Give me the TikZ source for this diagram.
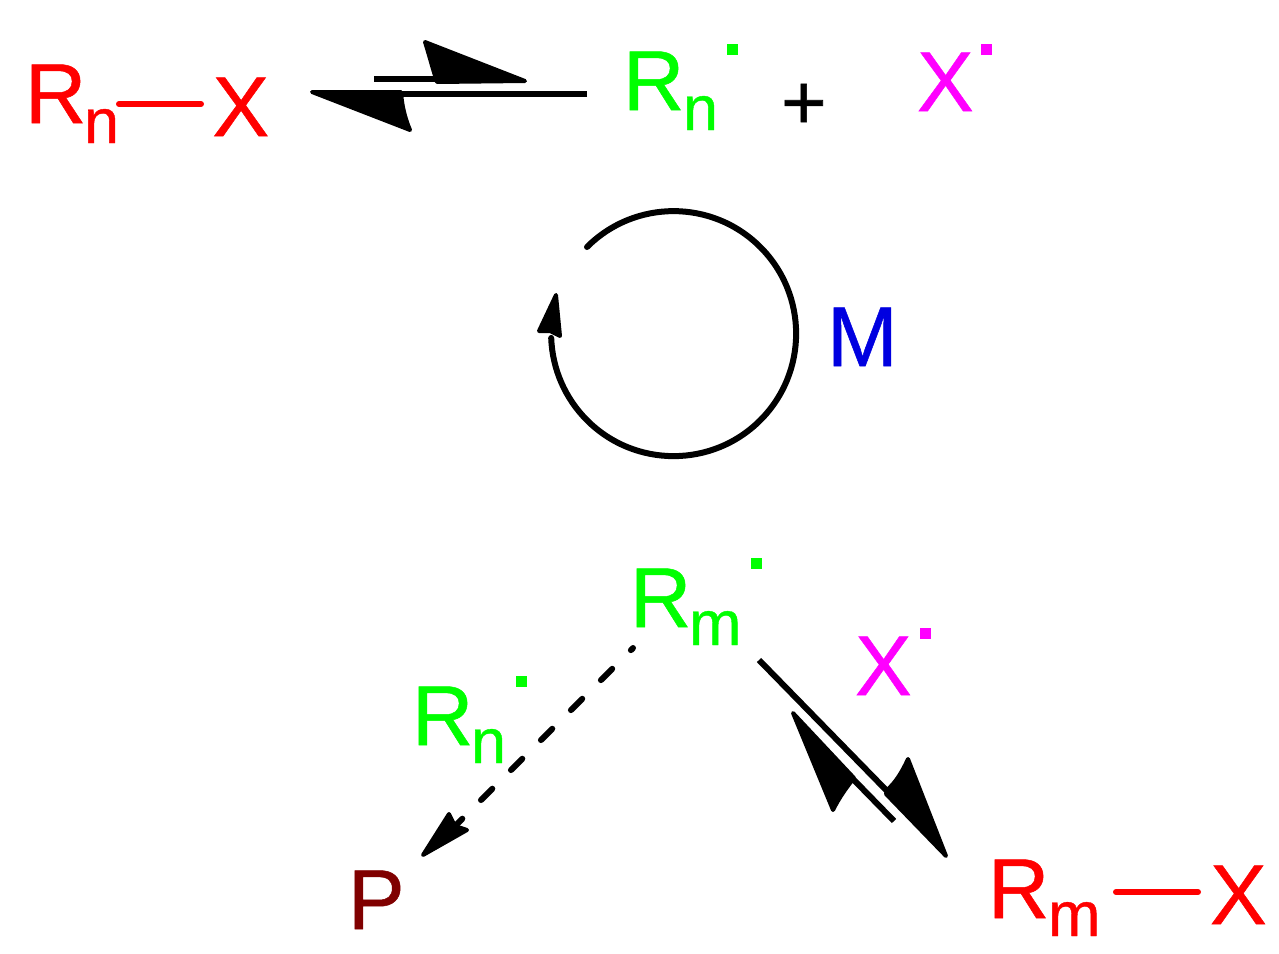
\documentclass[tikz,border=0pt]{standalone}
\usepackage{fontspec}
\setmainfont{Liberation Sans}
\definecolor{cred}{RGB}{255,0,0}
\definecolor{cgreen}{RGB}{0,255,0}
\definecolor{cpink}{RGB}{255,0,255}
\definecolor{cblue}{RGB}{0,0,224}
\definecolor{cbrown}{RGB}{128,0,0}
\tikzset{
  big/.style={inner sep=0pt,outer sep=0pt,anchor=base west,font=\fontsize{85}{85}\selectfont\addfontfeature{FakeBold=0.6}},
  small/.style={inner sep=0pt,outer sep=0pt,anchor=base west,font=\fontsize{63}{63}\selectfont\addfontfeature{FakeBold=0.6}},
  raddot/.style={inner sep=0pt,outer sep=0pt,anchor=north west,minimum size=10.5pt,rectangle},
  bond/.style={line width=6pt,line cap=round},
  harp/.style={line width=6pt},
  headfill/.style={fill=black,draw=black,line width=4pt,line join=round}
}
\begin{document}
\begin{tikzpicture}[x=1pt,y=-1pt]
\useasboundingbox (0,0) rectangle (1279,953);
% top left
\node[big,text=cred] (r1) at (25,123) {R};
\node[small,text=cred] (n1) at (84,143) {n};
\node[big,text=cred] (x1) at (212.5,136) {X};
\coordinate (b1a) at (119,104); \coordinate (b1b) at (201,104);
\draw[bond,cred] (b1a) -- (b1b);
% top right
\node[big,text=cgreen] (r2) at (623,110) {R};
\node[small,text=cgreen] (n2) at (683,130) {n};
\node[raddot,fill=cgreen] (d2) at (727,44) {};
\node[big,text=black,font=\fontsize{78}{78}\selectfont\addfontfeature{FakeBold=0.8}] (plus) at (781,129) {+};
\node[big,text=cpink] (x2) at (917,111) {X};
\node[raddot,fill=cpink] (d3) at (981,44) {};
% top arrows
\coordinate (h1a) at (374,79); \coordinate (h1b) at (437,79);
\coordinate (h2a) at (587,94); \coordinate (h2b) at (402,94);
\draw[harp] (h1a) -- (h1b);
\draw[harp] (h2a) -- (h2b);
\path[headfill] (525,81) -- (425,42) .. controls (430,58) and (433,70) .. (437,82) -- cycle;
\path[headfill] (312,92) -- (410,130) .. controls (405,118) and (402,106) .. (401,92) -- cycle;
% cycle
\coordinate (cc) at (673,334);
\node[big,text=cblue] (m) at (827,366) {M};
\draw[line width=6pt,line cap=round] (587,247) arc[start angle=135,end angle=-178,radius=122.5pt];
\path[headfill] (556,295) -- (539,331) -- (550,331) -- (560,336) -- cycle;
% lower centre
\node[big,text=cgreen] (r3) at (630,627) {R};
\node[small,text=cgreen] (m3) at (689,645) {m};
\node[raddot,fill=cgreen] (d4) at (751,558) {};
\node[big,text=cpink] (x3) at (855,695) {X};
\node[raddot,fill=cpink] (d5) at (920,628) {};
\node[big,text=cgreen] (r4) at (412,745) {R};
\node[small,text=cgreen] (n4) at (471,763) {n};
\node[raddot,fill=cgreen] (d6) at (516,676) {};
\node[big,text=cbrown] (p) at (348,929) {P};
% lower right
\node[big,text=cred] (r5) at (988,918) {R};
\node[small,text=cred] (m5) at (1048,936) {m};
\node[big,text=cred] (x5) at (1210,924) {X};
\coordinate (b5a) at (1116,892); \coordinate (b5b) at (1198,892);
\draw[bond,cred] (b5a) -- (b5b);
% dashed arrow
\coordinate (da) at (633,648); \coordinate (db) at (457,824);
\draw[line width=6pt,line cap=round,dash pattern=on 16pt off 26.4pt,dash phase=13pt] (da) -- (db);
\path[headfill] (423,855) -- (449,814) -- (455,826) -- (467,830) -- cycle;
% right arrows
\coordinate (h3a) at (759,660); \coordinate (h3b) at (888,792);
\coordinate (h4a) at (894,821); \coordinate (h4b) at (853,779);
\draw[harp] (h3a) -- (h3b);
\draw[harp] (h4a) -- (h4b);
\path[headfill] (946,856) -- (908,759) .. controls (902,772) and (896,782) .. (887,790) -- (886,794) -- cycle;
\path[headfill] (793,713) -- (833,810) .. controls (839,798) and (846,788) .. (854,778) -- cycle;
\end{tikzpicture}
\end{document}
